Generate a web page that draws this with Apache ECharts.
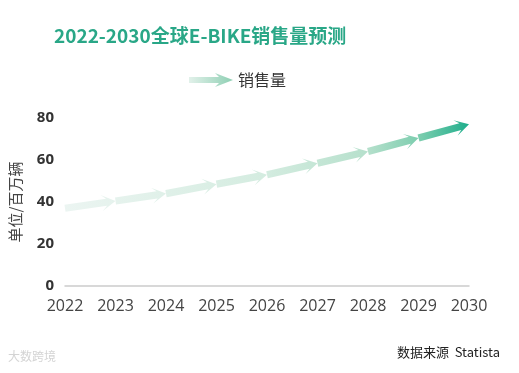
<!DOCTYPE html>
<html><head><meta charset="utf-8">
<script src="https://cdn.jsdelivr.net/npm/echarts@6/dist/echarts.min.js"></script>
<style>html,body{margin:0;padding:0;background:#fff}#c{width:519px;height:373px}</style>
</head><body><div id="c"></div>
<script>
var years = ['2022','2023','2024','2025','2026','2027','2028','2029','2030'];
var sales = [37, 40.5, 44, 48.5, 53, 58.5, 64, 70.5, 77];
var yTicks = [0, 20, 40, 60, 80];
var seriesName = '销售量';

var chart = echarts.init(document.getElementById('c'));
var fill = {type:'linear', x:61, y:0, x2:469, y2:0, global:true, colorStops:[
  {offset:0, color:'#ecf5f2'},{offset:0.5, color:'#d4ece0'},{offset:0.75, color:'#b6e0cc'},{offset:0.88, color:'#7bcdae'},{offset:1, color:'#1fae8c'}]};

function renderItem(params, api){
  var i = params.dataIndex;
  if (i === 0) return null;
  var p0 = api.coord([i-1, sales[i-1]]);
  var p1 = api.coord([i, sales[i]]);
  var dx = p1[0]-p0[0], dy = p1[1]-p0[1];
  var L = Math.sqrt(dx*dx+dy*dy);
  var ux = dx/L, uy = dy/L, nx = -uy, ny = ux;
  var w = 3.6, h = 14, hw = 8, notch = 5;
  function pt(a, b){ return [p0[0]+ux*a+nx*b, p0[1]+uy*a+ny*b]; }
  var pts = [pt(0,-w), pt(L-h+notch,-w), pt(L-h,-hw), pt(L,0), pt(L-h,hw), pt(L-h+notch,w), pt(0,w)];
  return {type:'polygon', shape:{points:pts}, style:{fill:fill}};
}

chart.setOption({
  animation:false,
  title:{text:'2022-2030全球E-BIKE销售量预测', left:49, top:21,
    textStyle:{fontFamily:'Noto Sans CJK SC', fontWeight:'bold', fontSize:19, color:'#29a787'}},
  legend:{left:184, top:67, itemWidth:44, itemHeight:14, itemGap:6,
    textStyle:{fontFamily:'Noto Sans CJK SC', fontSize:16, color:'#333'},
    data:[{name:seriesName, icon:'path://M0,4 L30,4 L26,0 L44,7 L26,14 L30,10 L0,10 Z',
      itemStyle:{color:{type:'linear',x:0,y:0,x2:1,y2:0,colorStops:[{offset:0,color:'#e2f1ea'},{offset:1,color:'#8ecfb3'}]}}}]},
  grid:{left:61, right:50, top:118, bottom:87},
  xAxis:{type:'category', data:years, boundaryGap:false,
    axisLine:{lineStyle:{color:'#cccccc', width:1.5}}, axisTick:{show:false},
    axisLabel:{margin:12, fontFamily:'Open Sans', fontSize:16, color:'#444'}},
  yAxis:{type:'value', min:yTicks[0], max:yTicks[yTicks.length-1], interval:20,
    name:'单位/百万辆', nameLocation:'middle', nameGap:42, nameRotate:90,
    nameTextStyle:{fontFamily:'Noto Sans CJK SC', fontSize:15, color:'#444'},
    axisLine:{show:false}, axisTick:{show:false}, splitLine:{show:false},
    axisLabel:{margin:11, fontFamily:'Open Sans', fontWeight:'bold', fontSize:15, color:'#333'}},
  series:[{type:'custom', name:seriesName, renderItem:renderItem,
    encode:{x:0,y:1}, data:sales.map(function(v,i){return [i,v];}),
    itemStyle:{color:'#8ecfb3'}}],
  graphic:[
    {type:'text', right:19, top:346, style:{text:'数据来源  Statista', font:'13px "Noto Sans CJK SC"', fill:'#222'}},
    {type:'text', left:8, top:350, style:{text:'大数跨境', font:'12px "Noto Sans CJK SC"', fill:'#d4d4d4'}}
  ]
});
</script></body></html>
